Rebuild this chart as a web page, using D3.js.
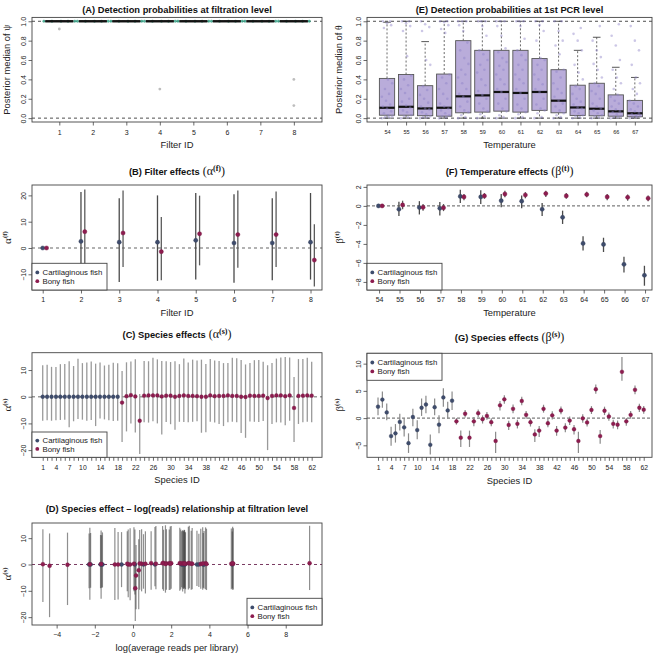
<!DOCTYPE html>
<html><head><meta charset="utf-8">
<script src="https://cdn.jsdelivr.net/npm/d3@7"></script>
<style>body{margin:0;background:#fff}svg{display:block}</style>
</head><body><script>
// ---------------- DATA ----------------
const filterIds=[1,2,3,4,5,6,7,8];
const aMedian=[1,1,1,1,1,1,1,1];
const aOutliers=[[1,0.92],[4,0.30],[8,0.40],[8,0.13]];

const temps=[54,55,56,57,58,59,60,61,62,63,64,65,66,67];
const eQ1 =[0.03,0.03,0.025,0.02,0.055,0.062,0.072,0.062,0.08,0.055,0.028,0.024,0.02,0.014];
const eMed=[0.107,0.117,0.10,0.107,0.225,0.235,0.27,0.26,0.27,0.18,0.11,0.097,0.07,0.05];
const eQ3 =[0.41,0.45,0.335,0.455,0.80,0.70,0.70,0.70,0.615,0.50,0.34,0.36,0.24,0.183];
const eWhiskHi=[0.99,1,0.79,1,1,1,1,1,1,1,0.70,0.835,0.525,0.42];
const eWhiskLo=[0,0,0,0,0,0,0,0,0,0,0,0,0,0];
const ePoints=[
 [0,0.01,0.01,0.02,0.03,0.05,0.07,0.1,0.12,0.14,0.18,0.22,0.25,0.3,0.36,0.4,0.93,0.96,0.98,1,1],
 [0,0.01,0.02,0.03,0.06,0.08,0.11,0.13,0.17,0.2,0.26,0.3,0.34,0.4,0.44,0.64,0.9,0.95,0.98,1,1],
 [0,0.01,0.01,0.02,0.04,0.06,0.09,0.1,0.12,0.16,0.2,0.24,0.29,0.33,0.55,0.6,0.9,0.94,0.97,1],
 [0,0.01,0.02,0.03,0.05,0.08,0.1,0.12,0.15,0.2,0.25,0.3,0.36,0.42,0.45,0.88,0.92,0.96,0.99,1,1],
 [0,0.01,0.03,0.06,0.08,0.12,0.17,0.22,0.25,0.3,0.36,0.42,0.45,0.5,0.56,0.62,0.7,0.78,0.9,0.96,1,1,1],
 [0,0.02,0.04,0.07,0.1,0.15,0.2,0.24,0.28,0.34,0.4,0.47,0.5,0.55,0.6,0.66,0.7,0.85,0.95,1,1,1],
 [0,0.01,0.03,0.07,0.1,0.15,0.2,0.27,0.3,0.35,0.4,0.45,0.5,0.54,0.58,0.62,0.68,0.72,0.85,0.95,1,1,1],
 [0,0.01,0.04,0.06,0.1,0.14,0.2,0.26,0.3,0.36,0.4,0.45,0.5,0.55,0.6,0.65,0.7,0.82,0.95,1,1,1],
 [0,0.01,0.05,0.08,0.1,0.14,0.2,0.27,0.3,0.35,0.4,0.45,0.5,0.55,0.6,0.62,0.8,0.9,0.96,1,1],
 [0,0.01,0.03,0.05,0.08,0.12,0.15,0.18,0.22,0.26,0.3,0.36,0.42,0.48,0.5,0.66,0.75,0.8,0.9,1,1],
 [0,0.01,0.02,0.03,0.05,0.07,0.1,0.11,0.14,0.17,0.2,0.25,0.3,0.33,0.4,0.47,0.55,0.7,0.8,0.87,0.93],
 [0,0.01,0.02,0.03,0.05,0.08,0.1,0.12,0.15,0.2,0.25,0.28,0.33,0.36,0.42,0.5,0.56,0.63,0.7,0.8,0.95],
 [0,0.01,0.01,0.02,0.04,0.06,0.07,0.09,0.12,0.15,0.18,0.22,0.24,0.3,0.36,0.42,0.5,0.6,0.75,0.85,0.97],
 [0,0.01,0.01,0.02,0.03,0.04,0.05,0.07,0.09,0.12,0.15,0.18,0.25,0.3,0.36,0.42,0.55,0.7,0.8,0.95]
];

const bCartMed=[0,2.5,2.2,2.2,2.9,1.9,1.9,2.2];
const bCartLo =[0,-12,-12.9,-12.5,-12,-13.2,-12.3,-12];
const bCartHi =[0,21.3,18.9,20,20.9,20.4,18.9,20.9];
const bBonyMed=[0,6.2,5.7,-1.4,5.4,5.1,5.1,-4.6];
const bBonyLo =[0,-7,-7.2,-12.3,-6.6,-7.5,-7.2,-14.6];
const bBonyHi =[0,22.2,21.9,11.8,19.9,21.9,21.5,9];

const fCartMed=[0,-0.35,-0.17,-0.25,1.0,0.95,0.55,0.5,-0.35,-1.2,-3.95,-4.05,-6.15,-7.3];
const fCartLo =[0,-1.05,-0.9,-1.0,0.3,0.2,-0.15,-0.25,-1.05,-1.9,-4.7,-4.85,-7.0,-8.4];
const fCartHi =[0,0.45,0.5,0.42,1.7,1.65,1.25,1.1,0.3,-0.5,-3.2,-3.35,-5.35,-6.3];
const fBonyMed=[0,0.1,-0.15,-0.2,0.95,1.05,1.25,1.15,1.3,1.05,1.2,0.95,0.9,0.8];
const fBonyLo =[0,-0.35,-0.5,-0.55,0.6,0.75,0.9,0.8,0.95,0.75,0.9,0.6,0.55,0.5];
const fBonyHi =[0,0.55,0.2,0.2,1.25,1.35,1.6,1.45,1.6,1.35,1.5,1.25,1.2,1.1];

const speciesIds=d3.range(1,63);
const nCart=18; // species 1-18 cartilaginous, 19-62 bony
const speciesLabels=[1,4,7,10,14,18,22,26,30,34,38,42,46,50,54,58,62];
const cMed=[0,0,0,0,0,0,0,0,0,0,0,0,0,0,0,0,0,0,
 -2.2,0.2,0.6,0.1,-9.0,0.4,0.5,0.5,0.5,0.1,0.4,0.4,0.0,0.3,0.5,0.3,0.3,0.2,0.0,0.0,0.5,0.2,0.3,0.3,0.5,0.3,0.3,0.0,-0.1,0.4,0.3,0.3,0.4,-0.5,0.3,0.5,0.5,0.2,0.5,-4.2,0.3,0.4,0.5,0.4];
const cHi=[11.8,12.0,11.2,11.1,12.2,12.3,13.3,11.5,14.2,12.6,12.8,13.2,12.4,12.8,11.7,12.0,12.7,12.5,
 9.6,12.9,13.2,14.0,1.0,13.4,13.3,14.6,14.0,13.4,13.3,13.0,13.3,12.2,14.3,12.8,13.9,13.6,13.9,12.3,14.1,13.6,13.4,12.6,12.6,14.6,14.4,13.8,12.1,12.6,13.7,13.8,13.1,11.8,12.6,14.3,14.7,14.9,14.7,7.4,14.1,14.1,14.6,13.1];
const cLo=[-9.0,-8.8,-9.0,-8.8,-8.7,-8.6,-11.4,-9.2,-8.3,-8.6,-9.0,-8.7,-11.0,-8.2,-8.5,-8.8,-9.1,-9.0,
 -17.0,-13.0,-10.0,-13.4,-21.5,-9.6,-9.7,-9.2,-10.0,-14.2,-9.5,-10.3,-12.4,-9.4,-9.5,-9.6,-9.4,-9.2,-13.5,-13.3,-9.4,-9.7,-10.2,-11.0,-9.6,-9.4,-9.6,-13.6,-15.4,-9.3,-9.4,-9.5,-9.1,-20.0,-10.2,-9.6,-9.7,-10.7,-9.0,-17.0,-10.2,-9.6,-9.4,-9.6];

const gMed=[2.1,3.4,1.05,-3.3,-2.8,-0.7,-1.7,-4.6,0.2,-2.2,1.9,2.5,-4.9,2.0,-1.2,3.8,1.4,3.2,
 -0.6,-3.6,0.8,-3.6,-0.6,0.9,-0.2,0.4,-0.75,-4.2,2.35,3.45,-1.25,1.7,-1.05,3.15,0.6,-0.75,-3.0,-2.3,1.7,-0.95,0.5,-2.3,1.4,-1.75,-0.45,-2.05,-4.2,-0.05,-0.8,1.5,5.3,-3.3,1.35,0.3,-1.05,-1.2,8.5,-0.6,0.6,5.2,1.9,1.55];
const gLo=[0.5,1.9,-0.4,-5.1,-4.5,-2.3,-3.4,-6.4,-1.5,-3.9,0.4,0.9,-6.7,0.5,-2.8,2.1,-0.1,1.5,
 -1.2,-5.3,0.1,-5.3,-1.5,0.2,-1.0,-0.3,-1.5,-6.4,1.4,2.65,-2.2,0.9,-1.9,2.35,-0.1,-1.55,-4.4,-3.45,1.0,-1.7,-0.25,-3.25,0.7,-2.6,-1.25,-3.0,-6.4,-0.85,-1.55,0.75,4.45,-4.7,0.55,-0.5,-1.9,-2.05,6.85,-1.4,-0.1,4.4,1.1,0.8];
const gHi=[3.8,4.9,2.7,-1.6,-1.1,0.8,0.0,-2.8,1.7,-0.4,3.6,4.1,-3.0,3.6,0.5,5.5,3.0,4.9,
 0.0,-2.3,1.5,-2.3,0.2,1.6,0.5,1.1,-0.05,-2.5,3.15,4.2,-0.5,2.5,-0.3,3.9,1.3,-0.05,-2.05,-1.45,2.45,-0.1,1.25,-1.45,2.15,-0.95,0.3,-1.25,-2.5,0.7,-0.1,2.2,6.15,-2.2,2.1,1.05,-0.3,-0.45,11.2,0.0,1.3,6.0,2.65,2.2];

const dLogReads=[-2.3,-2.22,-1.7,-1.64,-1.6,-0.6,0.1,0.55,1.15,2.55,2.62,2.68,2.72,3.35,3.45,3.68,3.72,5.2,
 0.3,-1.67,1.6,-2.26,0.12,1.75,1.9,2.0,2.45,-4.72,2.5,2.6,-0.25,2.75,2.9,3.05,3.1,3.55,-0.95,-0.78,3.8,3.85,0.45,0.65,0.95,1.2,1.95,-0.15,-3.43,2.65,5.15,5.25,2.7,-4.37,-0.3,5.22,9.25,1.7,2.95,0.16,0.05,3.65,1.55,0.35];

// ---------------- DRAWING ----------------
const W=658,H=655;
const SANS='"Liberation Sans", Arial, sans-serif';
const SERIF='"Liberation Serif", "DejaVu Serif", serif';
const CART='#3e4c6c', BONY='#8d1c4f';
const svg=d3.select('body').append('svg').attr('width',W).attr('height',H).style('font-family',SANS);

function panel(b,xd,yd){
  const x=d3.scaleLinear().domain(xd).range([b.x0,b.x1]);
  const y=d3.scaleLinear().domain(yd).range([b.y1,b.y0]);
  const g=svg.append('g');
  return {x,y,g,b};
}
function frame(p){
  p.g.append('rect').attr('x',p.b.x0).attr('y',p.b.y0).attr('width',p.b.x1-p.b.x0).attr('height',p.b.y1-p.b.y0)
   .attr('fill','none').attr('stroke','#444').attr('stroke-width',0.9);
}
function xAxis(p,vals,fmt,fs,pad){
  const gg=p.g.append('g').attr('transform',`translate(0,${p.b.y1})`)
   .call(d3.axisBottom(p.x).tickValues(vals).tickSize(3.5).tickPadding(pad).tickFormat(fmt));
  gg.select('.domain').remove();
  gg.selectAll('.tick line').attr('stroke','#444').attr('stroke-width',0.8);
  gg.selectAll('.tick text').attr('fill','#222').style('font-size',fs+'px').style('font-family',SANS);
}
function yAxis(p,vals,fmt,fs){
  const gg=p.g.append('g').attr('transform',`translate(${p.b.x0},0)`)
   .call(d3.axisLeft(p.y).tickValues(vals).tickSize(3.5).tickFormat(fmt));
  gg.select('.domain').remove();
  gg.selectAll('.tick line').attr('stroke','#444').attr('stroke-width',0.8);
  gg.selectAll('.tick text').attr('dy',null).attr('transform','rotate(-90)').attr('x',0).attr('y',-6.5)
   .attr('text-anchor','middle').attr('fill','#222').style('font-size',fs+'px').style('font-family',SANS);
}
function hline(p,v,color,dash,w){
  p.g.append('line').attr('x1',p.b.x0).attr('x2',p.b.x1).attr('y1',p.y(v)).attr('y2',p.y(v))
   .attr('stroke',color).attr('stroke-dasharray',dash).attr('stroke-width',w);
}
function title(cx,y,main,sym,sup){
  const t=svg.append('text').attr('x',cx).attr('y',y).attr('text-anchor','middle').attr('fill','#111').style('font-size','9.3px');
  t.append('tspan').style('font-weight','bold').style('font-family',SANS).text(main);
  if(sym){
    t.append('tspan').style('font-family',SERIF).style('font-size','12px').text(' ('+sym);
    t.append('tspan').attr('dy',-4.5).style('font-family',SERIF).style('font-weight','bold').style('font-size','8px').text('('+sup+')');
    t.append('tspan').attr('dy',4.5).style('font-family',SERIF).style('font-size','12px').text(')');
  }
}
function xTitle(cx,y,txt){
  svg.append('text').attr('x',cx).attr('y',y).attr('text-anchor','middle').attr('fill','#222').style('font-size','9.4px').text(txt);
}
function yTitle(x,cy,txt,sym,sup){
  const t=svg.append('text').attr('transform',`translate(${x},${cy}) rotate(-90)`).attr('text-anchor','middle').attr('fill','#222').style('font-size','9.4px');
  if(txt) t.append('tspan').text(txt);
  if(sym){
    t.append('tspan').style('font-family',SERIF).style('font-size',txt?'9.6px':'11px').text(sym);
    if(sup){
      t.append('tspan').attr('dy',-4).style('font-family',SERIF).style('font-weight','bold').style('font-size','7px').text('('+sup+')');
    }
  }
}
function legend(x0,y0,w,h){
  const g=svg.append('g');
  g.append('rect').attr('x',x0).attr('y',y0).attr('width',w).attr('height',h).attr('fill','#fff').attr('stroke','#444').attr('stroke-width',0.9);
  [[CART,'Cartilaginous fish'],[BONY,'Bony fish']].forEach((e,i)=>{
    const cy=y0+h*0.34+i*h*0.33;
    g.append('circle').attr('cx',x0+5.3).attr('cy',cy).attr('r',1.9).attr('fill',e[0]);
    g.append('text').attr('x',x0+10.5).attr('y',cy+2.8).attr('fill','#222').style('font-size','7.8px').text(e[1]);
  });
}
function ci(p,xs,lo,hi,color,w,op){
  p.g.append('g').selectAll('line').data(xs).join('line')
   .attr('x1',(d)=>p.x(d)).attr('x2',(d)=>p.x(d))
   .attr('y1',(d,i)=>p.y(lo[i])).attr('y2',(d,i)=>p.y(hi[i]))
   .attr('stroke',color).attr('stroke-width',w).attr('stroke-opacity',op);
}
function dots(p,xs,ys,colorFn,r){
  p.g.append('g').selectAll('circle').data(xs).join('circle')
   .attr('cx',(d)=>p.x(d)).attr('cy',(d,i)=>p.y(ys[i])).attr('r',r)
   .attr('fill',(d,i)=>colorFn(i)).attr('stroke',(d,i)=>d3.color(colorFn(i)).darker(0.5)).attr('stroke-width',0.4);
}

// ---- (A) ----
const pA=panel({x0:32,x1:322,y0:17.4,y1:122},[0.185,8.84],[-0.04,1.04]);
hline(pA,0,'#222','3,3',0.8); hline(pA,1,'#222','3,3',0.8);
const tealOffsets=[-0.46,-0.22,0.05,0.26,0.46];
filterIds.forEach((f,i)=>{
  pA.g.append('g').selectAll('circle').data(tealOffsets).join('circle')
    .attr('cx',d=>pA.x(f+d)).attr('cy',pA.y(aMedian[i])).attr('r',1.4).attr('fill','#3aa58a').attr('opacity',0.85);
  pA.g.append('line').attr('x1',pA.x(f-0.42)).attr('x2',pA.x(f+0.42)).attr('y1',pA.y(aMedian[i])).attr('y2',pA.y(aMedian[i]))
    .attr('stroke','#111').attr('stroke-width',2.4);
});
pA.g.append('g').selectAll('circle').data(aOutliers).join('circle')
  .attr('cx',d=>pA.x(d[0])).attr('cy',d=>pA.y(d[1])).attr('r',1.4).attr('fill','#bdbdbd');
frame(pA);
xAxis(pA,filterIds,d3.format('d'),7,4.5);
yAxis(pA,[0,0.2,0.4,0.6,0.8,1.0],d3.format('.1f'),7);
title(177,13,'(A) Detection probabilities at filtration level');
xTitle(177,148,'Filter ID');
yTitle(10,69.7,'Posterior median of ','ψ');

// ---- (E) ----
const pE=panel({x0:367,x1:652,y0:17.4,y1:122},[52.95,67.9],[-0.04,1.04]);
hline(pE,0,'#222','3,3',0.8); hline(pE,1,'#222','3,3',0.8);
const bw=0.4;
temps.forEach((t,i)=>{
  const g=pE.g.append('g');
  g.append('line').attr('x1',pE.x(t)).attr('x2',pE.x(t)).attr('y1',pE.y(eQ3[i])).attr('y2',pE.y(eWhiskHi[i])).attr('stroke','#444').attr('stroke-dasharray','2,2').attr('stroke-width',0.8);
  g.append('line').attr('x1',pE.x(t)).attr('x2',pE.x(t)).attr('y1',pE.y(eQ1[i])).attr('y2',pE.y(eWhiskLo[i])).attr('stroke','#444').attr('stroke-dasharray','2,2').attr('stroke-width',0.8);
  [eWhiskHi[i],eWhiskLo[i]].forEach(v=>g.append('line').attr('x1',pE.x(t-0.2)).attr('x2',pE.x(t+0.2)).attr('y1',pE.y(v)).attr('y2',pE.y(v)).attr('stroke','#444').attr('stroke-width',0.9));
  g.append('rect').attr('x',pE.x(t-bw)).attr('width',pE.x(t+bw)-pE.x(t-bw)).attr('y',pE.y(eQ3[i])).attr('height',pE.y(eQ1[i])-pE.y(eQ3[i]))
    .attr('fill','#b9acda').attr('stroke','#555').attr('stroke-width',0.9);
  g.append('line').attr('x1',pE.x(t-bw)).attr('x2',pE.x(t+bw)).attr('y1',pE.y(eMed[i])).attr('y2',pE.y(eMed[i])).attr('stroke','#111').attr('stroke-width',2.2);
  g.append('g').selectAll('circle').data(ePoints[i]).join('circle')
    .attr('cx',(d,j)=>pE.x(t+(((j*7)%11)-5)/5*0.27)).attr('cy',d=>pE.y(d)).attr('r',1.3)
    .attr('fill','#8e82c8').attr('opacity',0.45);
});
frame(pE);
xAxis(pE,temps,d3.format('d'),5.6,4.5);
yAxis(pE,[0,0.2,0.4,0.6,0.8,1.0],d3.format('.1f'),7);
title(509.5,13,'(E) Detection probabilities at 1st PCR level');
xTitle(509.5,148,'Temperature');
yTitle(342,69.7,'Posterior median of ','θ');

// ---- (B) ----
const pB=panel({x0:32,x1:322,y0:185,y1:290},[0.72,8.3],[-15.97,23.95]);
hline(pB,0,'#999','3,3',1.5);
ci(pB,filterIds,bCartLo,bCartHi,'#4a4a4a',1.3,1);
ci(pB,filterIds.map(f=>f+0.1),bBonyLo,bBonyHi,'#5c5c5c',1.3,1);
dots(pB,filterIds,bCartMed,()=>CART,2.1);
dots(pB,filterIds.map(f=>f+0.1),bBonyMed,()=>BONY,2.1);
legend(32,263.3,75,26.7);
frame(pB);
xAxis(pB,filterIds,d3.format('d'),7,3.5);
yAxis(pB,[-10,0,10,20],d3.format('d'),7);
title(177,175,'(B) Filter effects','α','f');
xTitle(177,316,'Filter ID');
yTitle(11,237.5,null,'α','f');

// ---- (F) ----
const pF=panel({x0:367,x1:652,y0:185,y1:290},[53.41,67.34],[-8.85,2.2]);
hline(pF,0,'#333','3,2',0.8);
ci(pF,temps.map(t=>t-0.03),fCartLo,fCartHi,'#4a4a4a',1.3,1);
ci(pF,temps.map(t=>t+0.15),fBonyLo,fBonyHi,'#5c5c5c',1.3,1);
dots(pF,temps.map(t=>t-0.03),fCartMed,()=>CART,2.1);
dots(pF,temps.map(t=>t+0.15),fBonyMed,()=>BONY,2.1);
legend(367,263.3,75,26.7);
frame(pF);
xAxis(pF,temps,d3.format('d'),7,4);
yAxis(pF,[-8,-6,-4,-2,0,2],d3.format('d'),7);
title(509.5,175,'(F) Temperature effects','β','t');
xTitle(509.5,316,'Temperature');
yTitle(343,237.5,null,'β','t');

// ---- (C) ----
const pC=panel({x0:32,x1:322,y0:352.7,y1:457.3},[-1.43,64.34],[-22.7,16.5]);
hline(pC,0,'#999','3,3',1.5);
ci(pC,speciesIds,cLo,cHi,'#9a9a9a',1.3,1);
dots(pC,speciesIds,cMed,i=>i<nCart?CART:BONY,1.9);
legend(32,432,75,25.3);
frame(pC);
xAxis(pC,speciesIds,d=>speciesLabels.includes(d)?d:'',6.8,4.5);
yAxis(pC,[-20,-10,0,10],d3.format('d'),7);
title(177,338,'(C) Species effects','α','s');
xTitle(177,483,'Species ID');
yTitle(11,405,null,'α','s');

// ---- (G) ----
const pG=panel({x0:367,x1:652,y0:353.3,y1:457.3},[-1.53,63.9],[-7.2,11.9]);
hline(pG,0,'#333','3,2',0.8);
ci(pG,speciesIds,gLo,gHi,'#8a8a8a',1.2,1);
dots(pG,speciesIds,gMed,i=>i<nCart?CART:BONY,1.9);
legend(367,353.3,75,27);
frame(pG);
xAxis(pG,speciesIds,d=>speciesLabels.includes(d)?d:'',6.8,4.5);
yAxis(pG,[-5,0,5,10],d3.format('d'),7);
title(509.5,341,'(G) Species effects','β','s');
xTitle(509.5,484,'Species ID');
yTitle(343,405,null,'β','s');

// ---- (D) ----
const pD=panel({x0:32,x1:322,y0:523,y1:625},[-5.29,9.9],[-22.98,15.76]);
ci(pD,dLogReads,cLo,cHi,'#333',1.2,0.55);
hline(pD,0,'#7a3a62','3,3',1);
dots(pD,dLogReads,cMed,i=>i<nCart?CART:BONY,2.0);
legend(247,598.3,75,26.7);
frame(pD);
xAxis(pD,[-4,-2,0,2,4,6,8],d3.format('d'),7,3.5);
yAxis(pD,[-20,-10,0,10],d3.format('d'),7);
title(177,512,'(D) Species effect – log(reads) relationship at filtration level');
xTitle(177,651,'log(average reads per library)');
yTitle(11,574,null,'α','s');
</script></body></html>
